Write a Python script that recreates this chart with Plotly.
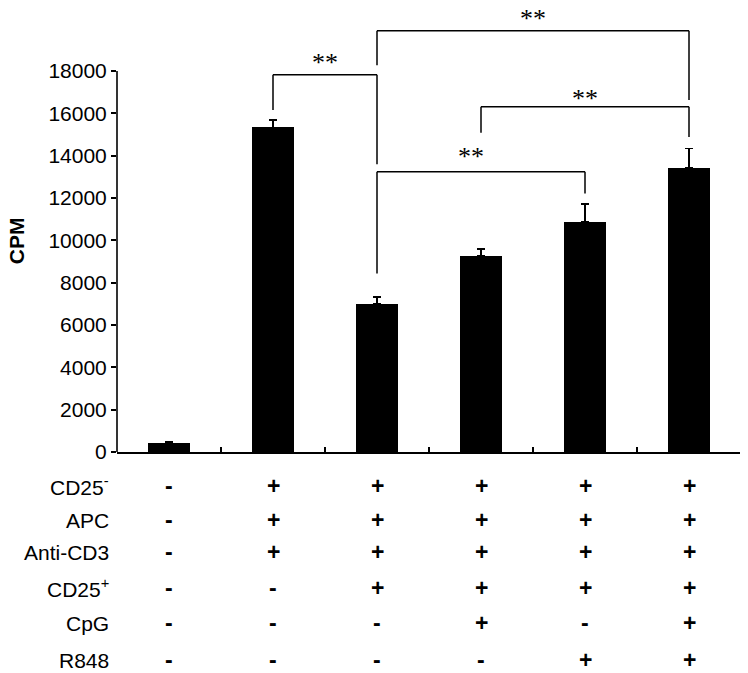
import plotly.graph_objects as go

# bar heights (CPM) and upper error
cpm = [440, 15340, 6980, 9270, 10880, 13430]
cpm_err = [60, 340, 350, 320, 840, 920]

# treatment table under the bars
row_labels = ["CD25<sup>-</sup>", "APC", "Anti-CD3", "CD25<sup>+</sup>", "CpG", "R848"]
conditions = [
    ["-", "+", "+", "+", "+", "+"],
    ["-", "+", "+", "+", "+", "+"],
    ["-", "+", "+", "+", "+", "+"],
    ["-", "-", "+", "+", "+", "+"],
    ["-", "-", "-", "+", "-", "+"],
    ["-", "-", "-", "-", "+", "+"],
]

# significance brackets: from bar, to bar, top line, left leg end, right leg end
br_from = [1, 2, 2, 3]
br_to = [2, 5, 4, 5]
br_top = [17830, 19900, 13240, 16310]
br_left_end = [16160, 18280, 8440, 15080]
br_right_end = [13600, 16630, 12220, 14890]
br_star_x = [1.5, 3.5, 2.9, 4.0]
br_star_y = [18650, 20730, 14220, 16950]

FONT = "Liberation Sans, Arial, sans-serif"
x_pos = list(range(len(cpm)))

fig = go.Figure()
fig.add_trace(go.Bar(
    x=x_pos, y=cpm, width=0.41,
    marker=dict(color="black", line=dict(width=0)),
    error_y=dict(type="data", array=cpm_err, arrayminus=[0] * len(cpm),
                 symmetric=False, color="black", thickness=1.6, width=4),
    showlegend=False,
))

shapes = []
# y axis line only up to 18000
shapes.append(dict(type="line", xref="paper", yref="y", x0=0, x1=0, y0=0, y1=18000,
                   line=dict(color="black", width=1.6)))
lw = dict(color="black", width=1.5)
for a, b, top, le, re in zip(br_from, br_to, br_top, br_left_end, br_right_end):
    shapes.append(dict(type="line", xref="x", yref="y", x0=a, x1=b, y0=top, y1=top, line=lw))
    shapes.append(dict(type="line", xref="x", yref="y", x0=a, x1=a, y0=top, y1=le, line=lw))
    shapes.append(dict(type="line", xref="x", yref="y", x0=b, x1=b, y0=top, y1=re, line=lw))

annotations = []
for sx, sy in zip(br_star_x, br_star_y):
    annotations.append(dict(x=sx, y=sy, xref="x", yref="y", text="**", showarrow=False,
                            font=dict(family="Liberation Serif, serif", size=26, color="black"),
                            xanchor="center", yanchor="middle", yshift=-5))

row_offsets = [34, 68, 100, 136, 171, 208]
for i, lab in enumerate(row_labels):
    annotations.append(dict(x=0, y=0, xref="paper", yref="paper", text=lab, showarrow=False,
                            xanchor="right", yanchor="middle", xshift=-6, yshift=-row_offsets[i],
                            font=dict(family=FONT, size=21, color="black")))
    for j, s in enumerate(conditions[i]):
        annotations.append(dict(x=j, y=0, xref="x", yref="paper", text="<b>%s</b>" % s,
                                showarrow=False, xanchor="center", yanchor="middle",
                                yshift=-row_offsets[i], font=dict(family=FONT, size=23, color="black")))

annotations.append(dict(x=0, y=9960, xref="paper", yref="y", text="<b>CPM</b>", showarrow=False,
                        textangle=-90, xanchor="center", yanchor="middle", xshift=-101,
                        font=dict(family=FONT, size=21, color="black")))

# page body adds an 8px margin, so the figure is 8px smaller than the window
fig.update_layout(
    width=740, height=665,
    margin=dict(l=109, r=7, t=0, b=221),
    plot_bgcolor="white", paper_bgcolor="white",
    font=dict(family=FONT, size=21, color="black"),
    xaxis=dict(range=[-0.5, 5.5], showline=True, linecolor="black", linewidth=1.6,
               tickmode="array", tickvals=[k + 0.5 for k in x_pos], ticks="inside",
               ticklen=5, tickwidth=1.5, tickcolor="black", showticklabels=False,
               showgrid=False, zeroline=False),
    yaxis=dict(range=[0, 20980], showline=False, tickmode="array",
               tickvals=list(range(0, 18001, 2000)), tickformat="d", ticks="outside", ticklen=5,
               tickwidth=1.5, tickcolor="black", showgrid=False, zeroline=False,
               tickfont=dict(family=FONT, size=21, color="black")),
    shapes=shapes,
    annotations=annotations,
    bargap=0,
)

fig.write_html("out.html")
